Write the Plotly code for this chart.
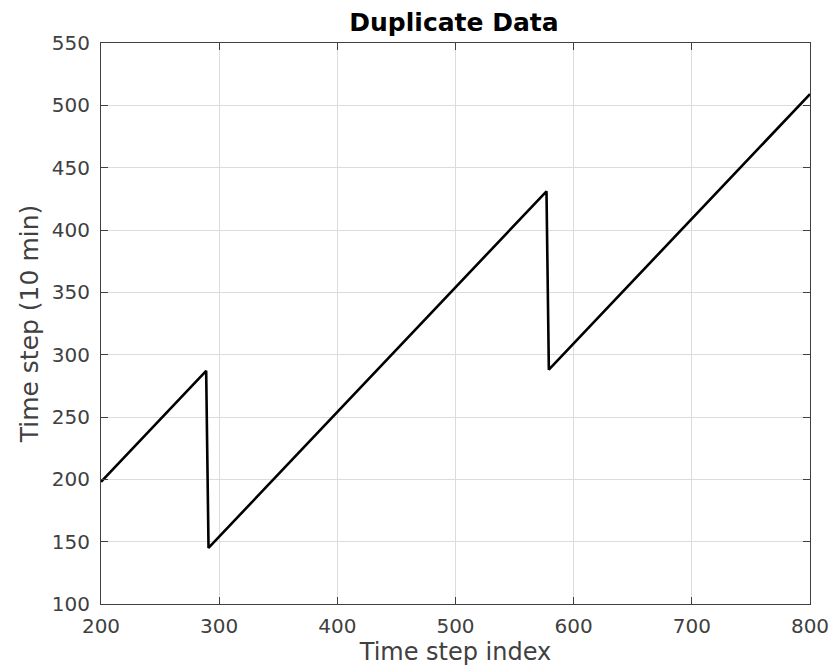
import plotly.graph_objects as go

# Breakpoints of the plotted series (time step index vs time step)
idx = [200, 289, 290, 291, 577, 578, 579, 800]
step = [198, 287, 216, 145, 431, 360, 288, 509]

x_ticks = [200, 300, 400, 500, 600, 700, 800]
y_ticks = [100, 150, 200, 250, 300, 350, 400, 450, 500, 550]

fig = go.Figure()
fig.add_trace(go.Scatter(x=idx, y=step, mode="lines",
                         line=dict(color="black", width=2.6), showlegend=False))

axis_common = dict(
    showline=True, linecolor="#404040", linewidth=1, mirror="ticks",
    ticks="inside", ticklen=7, tickcolor="#404040", tickwidth=1,
    showgrid=True, gridcolor="#dcdcdc", gridwidth=1, zeroline=False,
    automargin=False,
    tickfont=dict(family="DejaVu Sans", size=20, color="#404040"),
)

fig.update_layout(
    width=833, height=671,
    margin=dict(l=101, r=23, t=43, b=67),
    paper_bgcolor="white", plot_bgcolor="white",
    title=dict(text="<b>Duplicate Data</b>", x=0.545, xanchor="center",
               y=0.967, yanchor="middle",
               font=dict(family="DejaVu Sans", size=25, color="black")),
    xaxis=dict(range=[200, 800], tickvals=x_ticks, ticklabelstandoff=4,
               title=dict(text="Time step index", standoff=4,
                          font=dict(family="DejaVu Sans", size=24, color="#404040")),
               **axis_common),
    yaxis=dict(range=[100, 550], tickvals=y_ticks, ticklabelstandoff=6,
               title=dict(text="Time step (10 min)", standoff=6,
                          font=dict(family="DejaVu Sans", size=25, color="#404040")),
               **axis_common),
)

fig.write_html("out.html")
